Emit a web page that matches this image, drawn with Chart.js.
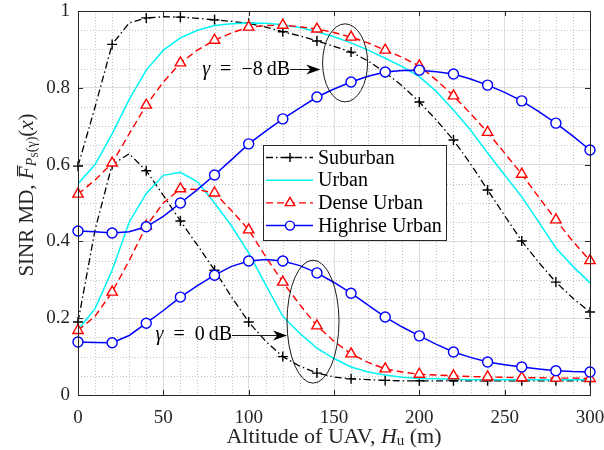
<!DOCTYPE html>
<html>
<head>
<meta charset="utf-8">
<script src="https://cdn.jsdelivr.net/npm/chart.js@4.4.0/dist/chart.umd.min.js"></script>
<style>
html, body { margin: 0; padding: 0; background: #fff; }
canvas { display: block; }
</style>
</head>
<body>
<canvas id="mdChart" width="604" height="450"></canvas>
<script>
//altitude of the UAV (m)
const altitudes = [0, 10, 20, 30, 40, 50, 60, 70, 80, 90, 100, 110, 120, 130, 140, 150,
    160, 170, 180, 190, 200, 210, 220, 230, 240, 250, 260, 270, 280, 290, 300];

//gamma = -8 dB
const suburbanM8 = [0.596, 0.75, 0.913, 0.969, 0.982, 0.985, 0.984, 0.981, 0.977, 0.973, 0.968,
    0.958, 0.946, 0.935, 0.922, 0.908, 0.893, 0.87, 0.84, 0.805, 0.763, 0.716, 0.664, 0.602,
    0.534, 0.467, 0.401, 0.345, 0.294, 0.252, 0.216];
const urbanM8 = [0.55, 0.60, 0.68, 0.77, 0.846, 0.898, 0.93, 0.95, 0.962, 0.967, 0.969,
    0.968, 0.964, 0.957, 0.946, 0.933, 0.917, 0.898, 0.877, 0.855, 0.829, 0.79, 0.742, 0.69,
    0.63, 0.573, 0.516, 0.45, 0.383, 0.335, 0.292];
const denseM8 = [0.523, 0.56, 0.604, 0.68, 0.755, 0.815, 0.865, 0.898, 0.924, 0.943, 0.958,
    0.962, 0.963, 0.959, 0.953, 0.944, 0.932, 0.917, 0.898, 0.879, 0.857, 0.82, 0.779, 0.733,
    0.684, 0.63, 0.575, 0.515, 0.456, 0.40, 0.35];
const highriseM8 = [0.427, 0.425, 0.422, 0.425, 0.438, 0.465, 0.5, 0.535, 0.573, 0.613, 0.654,
    0.687, 0.719, 0.748, 0.776, 0.797, 0.815, 0.83, 0.841, 0.845, 0.846, 0.842, 0.836, 0.823,
    0.807, 0.788, 0.766, 0.738, 0.708, 0.674, 0.638];

//gamma = 0 dB
const suburban0 = [0.19, 0.43, 0.60, 0.628, 0.584, 0.52, 0.453, 0.39, 0.325, 0.255, 0.19,
    0.14, 0.10, 0.075, 0.057, 0.047, 0.042, 0.04, 0.038, 0.037, 0.037, 0.037, 0.037, 0.037,
    0.037, 0.037, 0.037, 0.037, 0.037, 0.037, 0.037];
const urban0 = [0.17, 0.225, 0.325, 0.45, 0.525, 0.572, 0.58, 0.555, 0.5, 0.44, 0.37,
    0.287, 0.205, 0.16, 0.122, 0.095, 0.073, 0.06, 0.052, 0.046, 0.043, 0.042, 0.041, 0.04,
    0.04, 0.04, 0.04, 0.04, 0.04, 0.04, 0.04];
const dense0 = [0.168, 0.205, 0.268, 0.35, 0.44, 0.5, 0.537, 0.535, 0.526, 0.48, 0.43,
    0.36, 0.294, 0.235, 0.18, 0.14, 0.107, 0.085, 0.068, 0.06, 0.054, 0.052, 0.05, 0.048,
    0.047, 0.046, 0.045, 0.045, 0.044, 0.044, 0.043];
const highrise0 = [0.138, 0.137, 0.136, 0.155, 0.187, 0.22, 0.255, 0.285, 0.312, 0.335, 0.349,
    0.353, 0.349, 0.337, 0.318, 0.293, 0.265, 0.234, 0.203, 0.177, 0.154, 0.132, 0.112, 0.098,
    0.086, 0.079, 0.073, 0.068, 0.063, 0.061, 0.06];

const seriesNames = ['Suburban', 'Urban', 'Dense Urban', 'Highrise Urban'];
const xTicks = [0, 50, 100, 150, 200, 250, 300];
const yTicks = [0, 0.2, 0.4, 0.6, 0.8, 1];

const serif = '"Liberation Serif", "DejaVu Serif", serif';
const axisColor = '#262626';

//line styles, one per environment
const styles = [
    { color: '#000000', dash: [7, 3, 1.5, 3], marker: 'cross', radius: 5, width: 1.3 },
    { color: '#00f5f5', dash: [], marker: false, radius: 0, width: 1.5 },
    { color: '#ff0000', dash: [7, 4], marker: 'triangle', radius: 6, width: 1.4 },
    { color: '#0000ff', dash: [], marker: 'circle', radius: 5, width: 1.5 }
];

function pts(values) {
    return altitudes.map((a, i) => ({ x: a, y: values[i] }));
}

function makeSet(label, values, k) {
    const s = styles[k];
    return {
        label: label,
        data: pts(values),
        borderColor: s.color,
        borderWidth: s.width,
        borderDash: s.dash,
        backgroundColor: s.color,
        pointStyle: s.marker || 'circle',
        pointRadius: ctx => (s.marker && ctx.dataIndex % 2 === 0) ? s.radius : 0,
        pointBorderColor: s.color,
        pointBackgroundColor: '#ffffff',
        pointBorderWidth: 1.4,
        tension: 0,
        fill: false,
        clip: 10,
        order: 3 - k
    };
}

//draw one legend/marker symbol by hand
function drawMarker(ctx, kind, x, y, r, color) {
    ctx.save();
    ctx.setLineDash([]);
    ctx.strokeStyle = color;
    ctx.fillStyle = '#fff';
    ctx.lineWidth = 1.4;
    ctx.beginPath();
    if (kind === 'circle') {
        ctx.arc(x, y, r, 0, Math.PI * 2);
        ctx.fill();
    } else if (kind === 'triangle') {
        ctx.moveTo(x, y - r);
        ctx.lineTo(x + r * 0.866, y + r * 0.5);
        ctx.lineTo(x - r * 0.866, y + r * 0.5);
        ctx.closePath();
        ctx.fill();
    } else if (kind === 'cross') {
        ctx.moveTo(x - r, y); ctx.lineTo(x + r, y);
        ctx.moveTo(x, y - r); ctx.lineTo(x, y + r);
    }
    ctx.stroke();
    ctx.restore();
}

//draw text made of pieces: [text, fontSize, italic, yShift]
function drawPieces(ctx, pieces, x, y, align) {
    let total = 0;
    pieces.forEach(p => {
        ctx.font = (p[2] ? 'italic ' : '') + p[1] + 'px ' + serif;
        total += ctx.measureText(p[0]).width;
    });
    let cx = align === 'center' ? x - total / 2 : (align === 'right' ? x - total : x);
    const out = [];
    pieces.forEach(p => {
        ctx.font = (p[2] ? 'italic ' : '') + p[1] + 'px ' + serif;
        ctx.fillText(p[0], cx, y + (p[3] || 0));
        const w = ctx.measureText(p[0]).width;
        out.push({ x: cx, w: w });
        cx += w;
    });
    return out;
}

function arrow(ctx, x1, y1, x2, y2) {
    ctx.beginPath();
    ctx.moveTo(x1, y1);
    ctx.lineTo(x2 - 8, y2);
    ctx.stroke();
    ctx.beginPath();
    ctx.moveTo(x2, y2);
    ctx.lineTo(x2 - 14, y2 - 5);
    ctx.lineTo(x2 - 10, y2);
    ctx.lineTo(x2 - 14, y2 + 5);
    ctx.closePath();
    ctx.fill();
}

const decor = {
    id: 'decor',
    beforeDatasetsDraw(chart) {
        const { ctx, chartArea: a, scales: { x, y } } = chart;
        ctx.save();
        ctx.strokeStyle = '#c4c4c4';
        ctx.lineWidth = 1;
        ctx.setLineDash([1, 2]);
        //minor grid
        for (let v = 10; v < 300; v += 10) {
            if (v % 50 === 0) continue;
            const px = Math.round(x.getPixelForValue(v)) + 0.5;
            ctx.beginPath(); ctx.moveTo(px, a.top); ctx.lineTo(px, a.bottom); ctx.stroke();
        }
        for (let k = 1; k < 20; k++) {
            if (k % 4 === 0) continue;
            const py = Math.round(y.getPixelForValue(k * 0.05)) + 0.5;
            ctx.beginPath(); ctx.moveTo(a.left, py); ctx.lineTo(a.right, py); ctx.stroke();
        }
        ctx.restore();
    },
    afterDatasetsDraw(chart) {
        const { ctx, chartArea: a, scales: { x, y } } = chart;
        ctx.save();
        //box and inward ticks
        ctx.strokeStyle = axisColor;
        ctx.lineWidth = 1;
        ctx.setLineDash([]);
        ctx.strokeRect(Math.round(a.left) + 0.5, Math.round(a.top) + 0.5,
            Math.round(a.right - a.left), Math.round(a.bottom - a.top));
        ctx.beginPath();
        xTicks.forEach(v => {
            const px = Math.round(x.getPixelForValue(v)) + 0.5;
            ctx.moveTo(px, a.bottom); ctx.lineTo(px, a.bottom - 5);
            ctx.moveTo(px, a.top); ctx.lineTo(px, a.top + 5);
        });
        yTicks.forEach(v => {
            const py = Math.round(y.getPixelForValue(v)) + 0.5;
            ctx.moveTo(a.left, py); ctx.lineTo(a.left + 5, py);
            ctx.moveTo(a.right, py); ctx.lineTo(a.right - 5, py);
        });
        ctx.stroke();

        //ellipses and arrows
        ctx.strokeStyle = '#000';
        ctx.fillStyle = '#000';
        ctx.lineWidth = 0.9;
        ctx.beginPath();
        ctx.ellipse(x.getPixelForValue(156.5), y.getPixelForValue(0.865), 22.5, 39, 0, 0, Math.PI * 2);
        ctx.stroke();
        ctx.beginPath();
        ctx.ellipse(x.getPixelForValue(137.7), y.getPixelForValue(0.191), 26, 61.5, 0, 0, Math.PI * 2);
        ctx.stroke();

        ctx.textBaseline = 'middle';
        ctx.textAlign = 'left';
        drawPieces(ctx, [['\u03b3', 20, true], ['\u2002=\u2002\u22128\u2009dB', 20, false]], 290, 70, 'right');
        arrow(ctx, 290, 69.5, x.getPixelForValue(142), 69.5);
        drawPieces(ctx, [['\u03b3', 20, true], ['\u2002=\u20020\u2009dB', 20, false]], 232, 335, 'right');
        arrow(ctx, 232, 335.5, x.getPixelForValue(122.5), 335.5);

        //legend
        const lx = 263.5, ly = 145.5, lw = 183, lh = 95;
        ctx.fillStyle = '#fff';
        ctx.fillRect(lx, ly, lw, lh);
        ctx.strokeStyle = axisColor;
        ctx.lineWidth = 1;
        ctx.strokeRect(lx, ly, lw, lh);
        seriesNames.forEach((name, i) => {
            const s = styles[i];
            const ry = 157.5 + i * 22.7;
            ctx.strokeStyle = s.color;
            ctx.lineWidth = s.width;
            ctx.setLineDash(s.dash);
            ctx.beginPath(); ctx.moveTo(266, ry); ctx.lineTo(313, ry); ctx.stroke();
            if (s.marker) drawMarker(ctx, s.marker, 290, ry, s.radius - 0.5, s.color);
            ctx.fillStyle = '#000';
            ctx.font = '20px ' + serif;
            ctx.fillText(name, 318, ry + 1);
        });
        ctx.restore();
    },
    afterDraw(chart) {
        const { ctx, chartArea: a } = chart;
        ctx.save();
        ctx.fillStyle = axisColor;
        ctx.textBaseline = 'middle';
        //x title
        const cx = (a.left + a.right) / 2;
        drawPieces(ctx, [['Altitude of UAV, ', 22, false], ['H', 22, true], ['u', 15, false, 4],
            [' (m)', 22, false]], cx, 437, 'center');
        //y title
        ctx.translate(27, (a.top + a.bottom) / 2 - 8);
        ctx.rotate(-Math.PI / 2);
        const parts = drawPieces(ctx, [['SINR MD, ', 21, false], ['F', 21, true], ['P', 14, true, 5],
            ['S', 10, false, 8], ['(\u03b3)', 14, false, 5], ['(', 21, false], ['x', 21, true], [')', 21, false]], 0, 0, 'center');
        //bar over F
        const f = parts[1];
        ctx.fillRect(f.x + 3, -10, f.w - 2, 1.2);
        ctx.restore();
    }
};

const chart = new Chart(document.getElementById('mdChart').getContext('2d'), {
    type: 'line',
    data: {
        datasets: [
            makeSet(seriesNames[0], suburbanM8, 0),
            makeSet(seriesNames[1], urbanM8, 1),
            makeSet(seriesNames[2], denseM8, 2),
            makeSet(seriesNames[3], highriseM8, 3),
            makeSet(seriesNames[0], suburban0, 0),
            makeSet(seriesNames[1], urban0, 1),
            makeSet(seriesNames[2], dense0, 2),
            makeSet(seriesNames[3], highrise0, 3)
        ]
    },
    options: {
        responsive: false,
        animation: false,
        events: [],
        layout: { padding: { top: 11, right: 14, left: 0, bottom: 0 } },
        plugins: { legend: { display: false }, tooltip: { enabled: false } },
        scales: {
            x: {
                type: 'linear',
                min: 0,
                max: 300,
                afterBuildTicks: s => { s.ticks = xTicks.map(v => ({ value: v })); },
                afterFit: s => { s.height = 55; s.paddingLeft = 0; s.paddingRight = 0; },
                grid: { color: '#dcdcdc', drawTicks: false },
                border: { display: false },
                ticks: { color: axisColor, padding: 12, maxRotation: 0, font: { family: serif, size: 19 } }
            },
            y: {
                type: 'linear',
                min: 0,
                max: 1,
                afterBuildTicks: s => { s.ticks = yTicks.map(v => ({ value: v })); },
                afterFit: s => { s.width = 78; s.paddingTop = 0; s.paddingBottom = 0; },
                grid: { color: '#dcdcdc', drawTicks: false },
                border: { display: false },
                ticks: {
                    color: axisColor, padding: 8, font: { family: serif, size: 19 },
                    callback: v => String(Math.round(v * 10) / 10)
                }
            }
        }
    },
    plugins: [decor]
});
</script>
</body>
</html>
